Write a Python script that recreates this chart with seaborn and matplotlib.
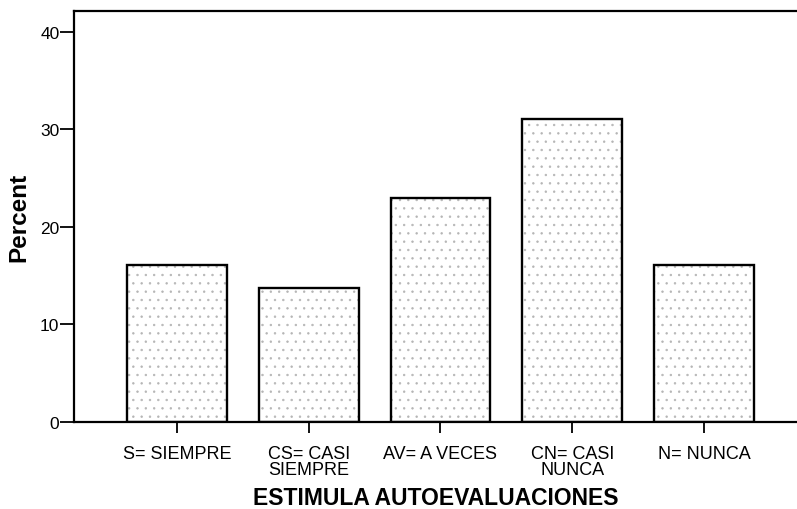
import matplotlib
matplotlib.use("Agg")
import matplotlib.pyplot as plt
from matplotlib.patches import Rectangle
import seaborn as sns
import pandas as pd

categories = ["S= SIEMPRE", "CS= CASI\nSIEMPRE", "AV= A VECES", "CN= CASI\nNUNCA", "N= NUNCA"]
percent = [16.09, 13.79, 22.99, 31.03, 16.09]
yticks = [0, 10, 20, 30, 40]

sns.set_theme(style="white")
plt.rcParams['font.family'] = ['Liberation Sans', 'DejaVu Sans']
plt.rcParams['text.color'] = 'black'
plt.rcParams['axes.labelcolor'] = 'black'
plt.rcParams['xtick.color'] = 'black'
plt.rcParams['ytick.color'] = 'black'
plt.rcParams['hatch.linewidth'] = 0.5

df = pd.DataFrame({"cat": categories, "pct": percent})

fig = plt.figure(figsize=(7.97, 5.10), dpi=100)
ax = fig.add_axes([74/797, 1-423/510, 1-74/797, (423-12)/510])
sns.barplot(data=df, x="cat", y="pct", ax=ax, color="white", width=0.757,
            edgecolor="#b5b5b5", linewidth=0, saturation=1)
for p in list(ax.patches):
    p.set_hatch('..')
    x0, y0 = p.get_xy()
    ax.add_patch(Rectangle((x0, y0), p.get_width(), p.get_height(), fill=False,
                           edgecolor='black', linewidth=1.7, zorder=3))

ax.set_ylim(0, 42.15)
ax.set_xlim(-0.78, 4.705)
ax.set_yticks(yticks)
ax.set_yticklabels([str(v) for v in yticks], fontsize=12.5)
ax.tick_params(axis='x', labelsize=13, length=8, width=1.3, direction='out', pad=8.5, bottom=True)
ax.tick_params(axis='y', length=10, width=1.3, direction='out', left=True, pad=0.5)
for lab in ax.get_xticklabels():
    lab.set_linespacing(0.95)
ax.set_ylabel("Percent", fontsize=17.5, fontweight='bold', labelpad=7)
ax.set_xlabel("ESTIMULA AUTOEVALUACIONES", fontsize=16.5, fontweight='bold', labelpad=5.5)

for s in ['left', 'top', 'bottom']:
    ax.spines[s].set_visible(True)
    ax.spines[s].set_color('black')
    ax.spines[s].set_linewidth(1.6)
ax.spines['right'].set_visible(False)

fig.savefig("out.png", dpi=100)
